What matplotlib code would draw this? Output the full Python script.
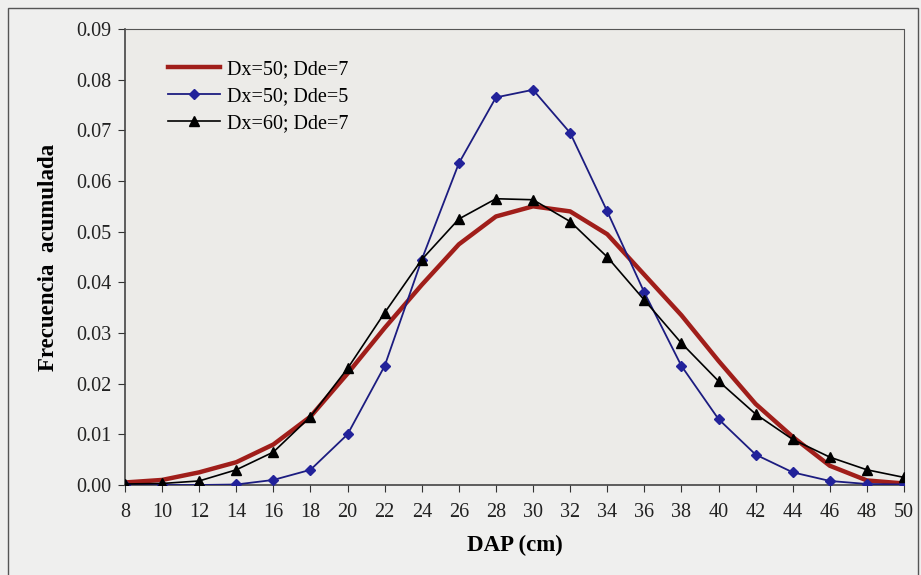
import matplotlib.pyplot as plt
from matplotlib.patches import Rectangle

plt.rcParams['font.family'] = ['Liberation Serif', 'DejaVu Serif']

dap = [8, 10, 12, 14, 16, 18, 20, 22, 24, 26, 28, 30, 32, 34, 36, 38, 40, 42, 44, 46, 48, 50]
dx50_dde7 = [0.0005, 0.001, 0.0025, 0.0045, 0.008, 0.0135, 0.022, 0.031, 0.0395, 0.0475, 0.053,
             0.055, 0.054, 0.0495, 0.0415, 0.0335, 0.0245, 0.016, 0.0095, 0.0038, 0.0009, 0.0003]
dx50_dde5 = [0.0, 0.0, 0.0, 0.0001, 0.001, 0.003, 0.010, 0.0235, 0.0445, 0.0635, 0.0765,
             0.078, 0.0695, 0.054, 0.038, 0.0235, 0.013, 0.006, 0.0025, 0.0008, 0.0002, 0.0001]
dx60_dde7 = [0.0002, 0.0003, 0.0008, 0.003, 0.0065, 0.0135, 0.023, 0.034, 0.0445, 0.0525, 0.0565,
             0.0563, 0.052, 0.045, 0.0365, 0.028, 0.0205, 0.014, 0.009, 0.0055, 0.003, 0.0015]
labels = ['Dx=50; Dde=7', 'Dx=50; Dde=5', 'Dx=60; Dde=7']

fig = plt.figure(figsize=(9.21, 5.75), dpi=100, facecolor='#efefee')
fig.patches.append(Rectangle((8 / 921, -0.01), 910 / 921, 1 - 8 / 575 + 0.01,
                             transform=fig.transFigure, fill=False,
                             edgecolor='#555555', lw=1.0))
ax = fig.add_axes([125 / 921, 1 - 485 / 575, (904 - 125) / 921, (485 - 29) / 575])
ax.set_facecolor('#ecebe8')

ax.plot(dap, dx50_dde7, color='#a01e1a', lw=3.2, label=labels[0], zorder=2)
ax.plot(dap, dx50_dde5, color='#1c1c80', lw=1.3, marker='D', ms=5,
        mfc='#22229a', mec='#22229a', label=labels[1], zorder=3)
ax.plot(dap, dx60_dde7, color='black', lw=1.2, marker='^', ms=7,
        label=labels[2], zorder=4)

ax.set_xlim(8, 50)
ax.set_ylim(0, 0.09)
ax.set_xticks(range(8, 51, 2))
ax.set_yticks([i / 100 for i in range(10)])
ax.set_yticklabels([f'{i / 100:.2f}' for i in range(10)])
ax.tick_params(labelsize=14.5, direction='out', length=5, width=0.8, colors='#333333',
               labelcolor='#222222')
ax.tick_params(axis='x', pad=8)
ax.tick_params(axis='y', pad=5)
for s in ['top', 'right']:
    ax.spines[s].set_linestyle((0, (2, 1)))
    ax.spines[s].set_color('#555555')
for s in ['left', 'bottom']:
    ax.spines[s].set_color('#444444')
    ax.spines[s].set_linewidth(1.2)

ax.set_xlabel('DAP (cm)', fontsize=16.5, fontweight='bold', labelpad=9)
ax.set_ylabel('Frecuencia  acumulada', fontsize=16.5, fontweight='bold', labelpad=12)

ax.legend(loc='upper left', bbox_to_anchor=(0.045, 0.95), frameon=False, fontsize=14.5,
          handlelength=2.6, handletextpad=0.3, labelspacing=0.4, borderaxespad=0)

fig.savefig('out.png', dpi=100, facecolor=fig.get_facecolor())
